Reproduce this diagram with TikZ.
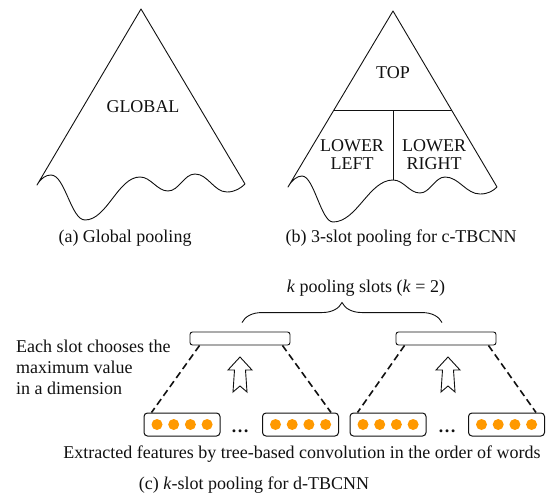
\documentclass[tikz,border=0pt]{standalone}
\usepackage{fontspec}
\setmainfont{Liberation Serif}
\usetikzlibrary{calc,decorations.pathreplacing}
\definecolor{plink}{HTML}{111111}
\definecolor{plorange}{HTML}{FF9900}
\tikzset{
  pl text/.style={font=\fontsize{18}{21}\selectfont, text=plink, inner sep=0pt},
  pl outline/.style={draw=plink, line width=0.9pt, line join=round},
  pl slot/.style={draw=plink, line width=0.9pt, rounded corners=2.5pt,
    minimum width=100pt, minimum height=13pt, inner sep=0pt},
  pl feat/.style={draw=plink, line width=1pt, rounded corners=3.5pt,
    minimum width=76pt, minimum height=23pt, inner sep=0pt},
  pl link/.style={draw=plink, line width=1.6pt, dash pattern=on 7pt off 4pt},
  pl up/.style={draw=plink, line width=0.9pt, fill=white, line join=miter},
  pl brace/.style={decorate, decoration={brace, amplitude=20pt},
    draw=plink, line width=0.9pt},
  pl label/.style={anchor=base, align=center}
}

\begin{document}
\begin{tikzpicture}[pl text, x=1pt, y=-1pt]
  \useasboundingbox (0,0) rectangle (553,494);
  % (a) global pooling
  \coordinate (ga) at (141,9);
  \coordinate (gl) at (37,185);
  \coordinate (gr) at (245,184);
  \draw[pl outline] (gr) -- (ga) -- (gl)
    .. controls (41,178) and (46,175) .. (51,175)
    .. controls (65,175) and (71,220) .. (85,220)
    .. controls (107,220) and (118,177) .. (140,177)
    .. controls (151,177) and (157,191) .. (168,191)
    .. controls (179,191) and (184,174) .. (195,174)
    .. controls (208,174) and (214,192) .. (227,192)
    .. controls (235,192) and (241,188) .. (gr);
  \node[pl label] (global) at (143,113) {GLOBAL};
  \node[pl label] (capa) at (125,242) {(a) Global pooling};
  % (b) 3-slot pooling
  \coordinate (ta) at (393,11);
  \coordinate (tl) at (288,187);
  \coordinate (tr) at (497,187);
  \coordinate (tm) at (393,180);
  \draw[pl outline] (tr) -- (ta) -- (tl)
    .. controls (292,180) and (297,176) .. (302,176)
    .. controls (314,176) and (321,222) .. (333,222)
    .. controls (357,222) and (369,180) .. (tm)
    .. controls (404,180) and (409,193) .. (420,193)
    .. controls (430,193) and (435,177) .. (445,177)
    .. controls (459,177) and (466,194) .. (480,194)
    .. controls (488,194) and (493,191) .. (tr);
  \coordinate (sl) at ($(ta)!0.5625!(tl)$);
  \coordinate (sr) at ($(ta)!0.5625!(tr)$);
  \draw[pl outline] (sl) -- (sr);
  \draw[pl outline] (tm) -- (tm |- sl);
  \node[pl label] (top) at (393,79) {TOP};
  \node[pl label, font=\fontsize{18}{18}\selectfont] (lleft) at (352,170) {LOWER\\LEFT};
  \node[pl label, font=\fontsize{18}{18}\selectfont] (lright) at (434,170) {LOWER\\RIGHT};
  \node[pl label] (capb) at (401,242) {(b) 3-slot pooling for c-TBCNN};
  % (c) k-slot pooling
  \node[pl slot] (slotL) at (240,338.5) {};
  \node[pl slot] (slotR) at (446,338.5) {};
  \node[pl feat] (feat1) at (182,424.5) {};
  \node[pl feat] (feat2) at (300.5,424.5) {};
  \node[pl feat] (feat3) at (388,424.5) {};
  \node[pl feat] (feat4) at (506.5,424.5) {};
  \foreach \f in {feat1,feat2,feat3,feat4}
    \foreach \i in {0,...,3}
      \fill[plorange] ($(\f.center)+(-25+16.7*\i,0)$) circle (5.5);
  \node[pl label, font=\fontsize{18}{21}\bfseries] (dots1) at (240,432) {…};
  \node[pl label, font=\fontsize{18}{21}\bfseries] (dots2) at (447,432) {…};
  \draw[pl link] ($(slotL.south west)+(10,0)$) -- ($(feat1.north west)+(8,0)$);
  \draw[pl link] ($(slotL.south east)+(-8,0)$) -- ($(feat2.north east)+(-8,0)$);
  \draw[pl link] ($(slotR.south west)+(9,0)$) -- ($(feat3.north west)+(8,0)$);
  \draw[pl link] ($(slotR.south east)+(-8,0)$) -- ($(feat4.north east)+(-9,0)$);
  \foreach \ax in {240,448}
    \draw[pl up, shift={(\ax,357)}] (0,0) -- (12,13) -- (5.5,13) -- (7,35)
      -- (0,29) -- (-7,35) -- (-5.5,13) -- (-12,13) -- cycle;
  \draw[pl brace] ($(slotL.north)+(2,-9)$) -- ($(slotR.north)+(-4,-9)$);
  \node[pl label] (slots) at (366,292) {\textit{k} pooling slots (\textit{k} = 2)};
  \node[anchor=base west, align=left] (note) at (16,394)
    {Each slot chooses the\\maximum value\\in a dimension};
  \node[pl label] (feats) at (302,458)
    {Extracted features by tree-based convolution in the order of words};
  \node[pl label] (capc) at (254,489) {(c) \textit{k}-slot pooling for d-TBCNN};
\end{tikzpicture}
\end{document}
